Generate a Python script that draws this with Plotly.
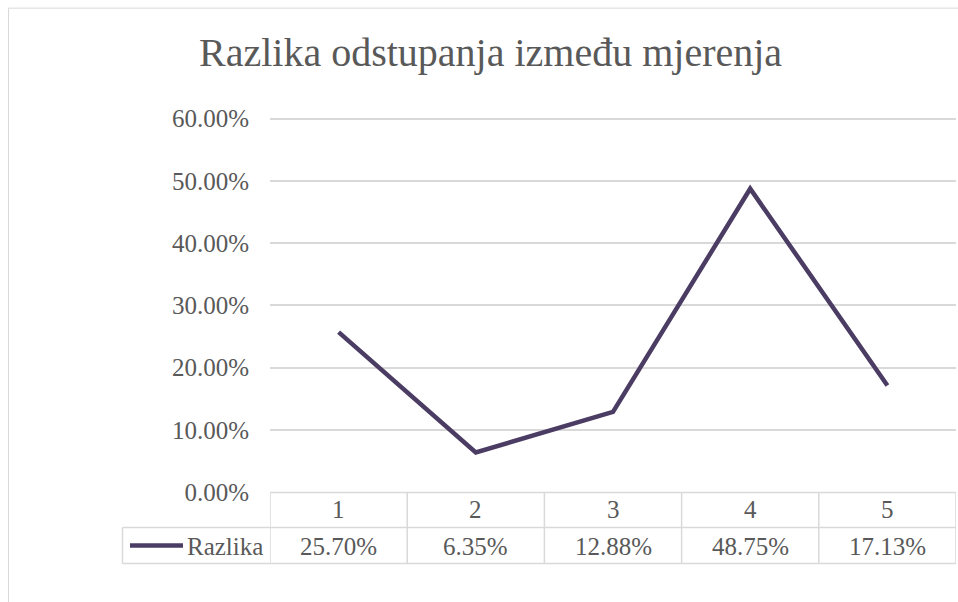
import plotly.graph_objects as go

categories = [1, 2, 3, 4, 5]
razlika = [0.2570, 0.0635, 0.1288, 0.4875, 0.1713]
series_name = "Razlika"
title_text = "Razlika odstupanja između mjerenja"
y_ticks = [0.0, 0.1, 0.2, 0.3, 0.4, 0.5, 0.6]

# body margin is removed below, so figure pixels == window pixels
OFF = 0
W, H = 958 - OFF, 602 - OFF
PLOT_L, PLOT_R, Y60, PLOT_B = 270, 956, 119, 492  # window pixels
YMAX_TICK = 0.6
YMAX = 0.606  # a little headroom so the top gridline is drawn
PH = (PLOT_B - Y60) * YMAX / YMAX_TICK
L = PLOT_L - OFF
R = (958 - OFF) - (PLOT_R - OFF)
B = H - (PLOT_B - OFF)
T = H - B - PH
PW = W - L - R

def px(x):
    return (x - OFF - L) / PW

def py(y):
    return (H - B - (y - OFF)) / PH

FONT = "Liberation Serif"
TXT = "#595959"
GRID = "#d9d9d9"
LINE = "#4b3c63"
FS = 25

fig = go.Figure()
fig.add_trace(go.Scatter(
    x=categories, y=razlika, mode="lines", name=series_name,
    line=dict(color=LINE, width=4.5), showlegend=False,
    hoverinfo="skip",
))

shapes = []
# outer chart border
shapes.append(dict(type="rect", xref="paper", yref="paper",
                   x0=px(8.5), x1=px(1000), y0=py(700), y1=py(8.5),
                   line=dict(color=GRID, width=1), fillcolor="rgba(0,0,0,0)", layer="below"))
# table horizontal lines
shapes.append(dict(type="line", xref="paper", yref="paper", x0=0, x1=1, y0=py(492.5), y1=py(492.5),
                   line=dict(color=GRID, width=1.5)))
for yy in (527.5, 563.5):
    shapes.append(dict(type="line", xref="paper", yref="paper", x0=px(122.5), x1=1, y0=py(yy), y1=py(yy),
                       line=dict(color=GRID, width=1.5)))
# table vertical lines
for i in range(len(categories) + 1):
    xb = categories[0] - 0.5 + i
    shapes.append(dict(type="line", xref="x", yref="paper", x0=xb, x1=xb, y0=py(563.5), y1=py(492.5),
                       line=dict(color=GRID, width=1.5)))
shapes.append(dict(type="line", xref="paper", yref="paper", x0=px(122.5), x1=px(122.5), y0=py(563.5), y1=py(527.5),
                   line=dict(color=GRID, width=1.5)))
# legend key
shapes.append(dict(type="line", xref="paper", yref="paper", x0=px(130), x1=px(183), y0=py(545.5), y1=py(545.5),
                   line=dict(color=LINE, width=4.5)))

annotations = []
annotations.append(dict(text=title_text, xref="paper", yref="paper", x=px(490), y=py(53),
                        xanchor="center", yanchor="middle", showarrow=False,
                        font=dict(family=FONT, size=40, color=TXT)))
for c, v in zip(categories, razlika):
    annotations.append(dict(text=str(c), xref="x", yref="paper", x=c, y=py(509),
                            xanchor="center", yanchor="middle", showarrow=False,
                            font=dict(family=FONT, size=FS, color=TXT)))
    annotations.append(dict(text=f"{v*100:.2f}%", xref="x", yref="paper", x=c, y=py(546),
                            xanchor="center", yanchor="middle", showarrow=False,
                            font=dict(family=FONT, size=FS, color=TXT)))
annotations.append(dict(text=series_name, xref="paper", yref="paper", x=px(185), y=py(546),
                        xanchor="left", yanchor="middle", showarrow=False,
                        font=dict(family=FONT, size=FS, color=TXT)))

fig.update_layout(
    width=W, height=H, autosize=False,
    margin=dict(l=L, r=R, t=T, b=B, pad=0),
    paper_bgcolor="white", plot_bgcolor="white",
    shapes=shapes, annotations=annotations,
    xaxis=dict(range=[categories[0] - 0.5, categories[-1] + 0.5], showticklabels=False,
               showgrid=False, zeroline=False, showline=False, fixedrange=True),
    yaxis=dict(range=[0, YMAX], tickvals=y_ticks, tickformat=".2%",
               showgrid=True, gridcolor=GRID, gridwidth=1.5, zeroline=False, showline=False,
               ticks="", ticklabelstandoff=20,
               tickfont=dict(family=FONT, size=FS, color=TXT), fixedrange=True),
)

fig.write_html("out.html", config={"responsive": False, "displayModeBar": False},
               post_script="document.body.style.margin='0px'; document.body.style.overflow='hidden';")
